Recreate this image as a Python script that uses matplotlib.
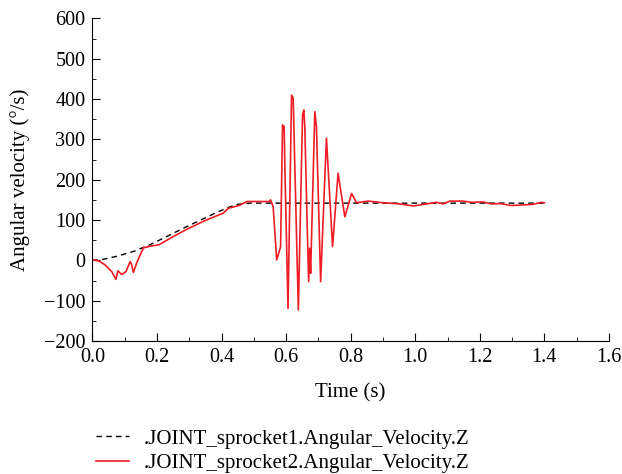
import numpy as np
import matplotlib.pyplot as plt
from matplotlib.ticker import MultipleLocator

plt.rcParams['font.family'] = ['Liberation Serif', 'DejaVu Serif']

# sprocket 1 (dashed, smooth ramp then constant)
t1 = [0.0, 0.03, 0.075, 0.127, 0.179, 0.23, 0.28, 0.33, 0.38, 0.42, 0.45, 0.49, 0.8, 1.1, 1.4]
w1 = [0, 2, 10, 22, 39, 59, 79, 98, 117, 131, 139, 142, 142, 142, 142]

# sprocket 2 (red, oscillating)
t2 = [0.0, 0.019, 0.039, 0.06, 0.073, 0.079, 0.091, 0.104, 0.117, 0.122, 0.127, 0.139,
      0.158, 0.179, 0.207, 0.25, 0.3, 0.35, 0.405, 0.421, 0.457, 0.478, 0.5,
      0.548, 0.552, 0.560, 0.571, 0.583, 0.589, 0.594, 0.596, 0.606, 0.617, 0.622,
      0.638, 0.651, 0.655, 0.658, 0.666, 0.670, 0.673, 0.676, 0.689, 0.694, 0.707,
      0.725, 0.744, 0.761, 0.782, 0.803, 0.818, 0.854, 0.9, 0.952, 0.994, 1.035,
      1.066, 1.087, 1.107, 1.148, 1.174, 1.21, 1.236, 1.262, 1.298, 1.365, 1.391, 1.4]
w2 = [1, -1, -11, -28, -47, -26, -35, -28, -3, -11, -30, -3,
      31, 35, 39, 59, 80, 99, 117, 129, 137, 146, 146,
      146, 150, 133, 1, 34, 336, 332, 241, -119, 410, 402,
      -123, 361, 373, 332, 67, -53, 30, -32, 369, 332, -53,
      303, 34, 216, 108, 166, 143, 147, 143, 140, 135, 140,
      144, 140, 147, 147, 144, 145, 140, 141, 136, 139, 144, 143]

fig = plt.figure(figsize=(6.22, 4.74), dpi=100)
ax = fig.add_axes([0.1485, 0.2806, 0.8305, 0.6804])

ax.plot(t1, w1, color='black', linestyle=(0, (4, 3)), linewidth=1.0,
        label='.JOINT_sprocket1.Angular_Velocity.Z')
ax.plot(t2, w2, color='#ee1c24', linewidth=1.2,
        label='.JOINT_sprocket2.Angular_Velocity.Z')

ax.set_xlim(0, 1.6)
ax.set_ylim(-200, 600)
ax.xaxis.set_major_locator(MultipleLocator(0.2))
ax.xaxis.set_minor_locator(MultipleLocator(0.1))
ax.yaxis.set_major_locator(MultipleLocator(100))
ax.yaxis.set_minor_locator(MultipleLocator(50))
ax.xaxis.set_major_formatter(plt.FuncFormatter(lambda v, p: f"{v:.1f}"))
ax.yaxis.set_major_formatter(plt.FuncFormatter(lambda v, p: f"{v:.0f}".replace('-', '\u2212')))
ax.tick_params(which='both', direction='in', labelsize=14.5, pad=5)
ax.tick_params(which='major', length=6)
ax.tick_params(which='minor', length=3)
ax.spines['top'].set_visible(False)
ax.spines['right'].set_visible(False)

ax.set_xlabel('Time (s)', fontsize=15, labelpad=12)
ax.set_ylabel('Angular velocity (°/s)', fontsize=15, labelpad=10)

fig.legend(loc='upper left', bbox_to_anchor=(0.155, 0.095), frameon=False,
           fontsize=15, handlelength=1.55, handletextpad=0.7, labelspacing=0.25,
           borderaxespad=0, borderpad=0)

fig.savefig('out.png', dpi=100)
